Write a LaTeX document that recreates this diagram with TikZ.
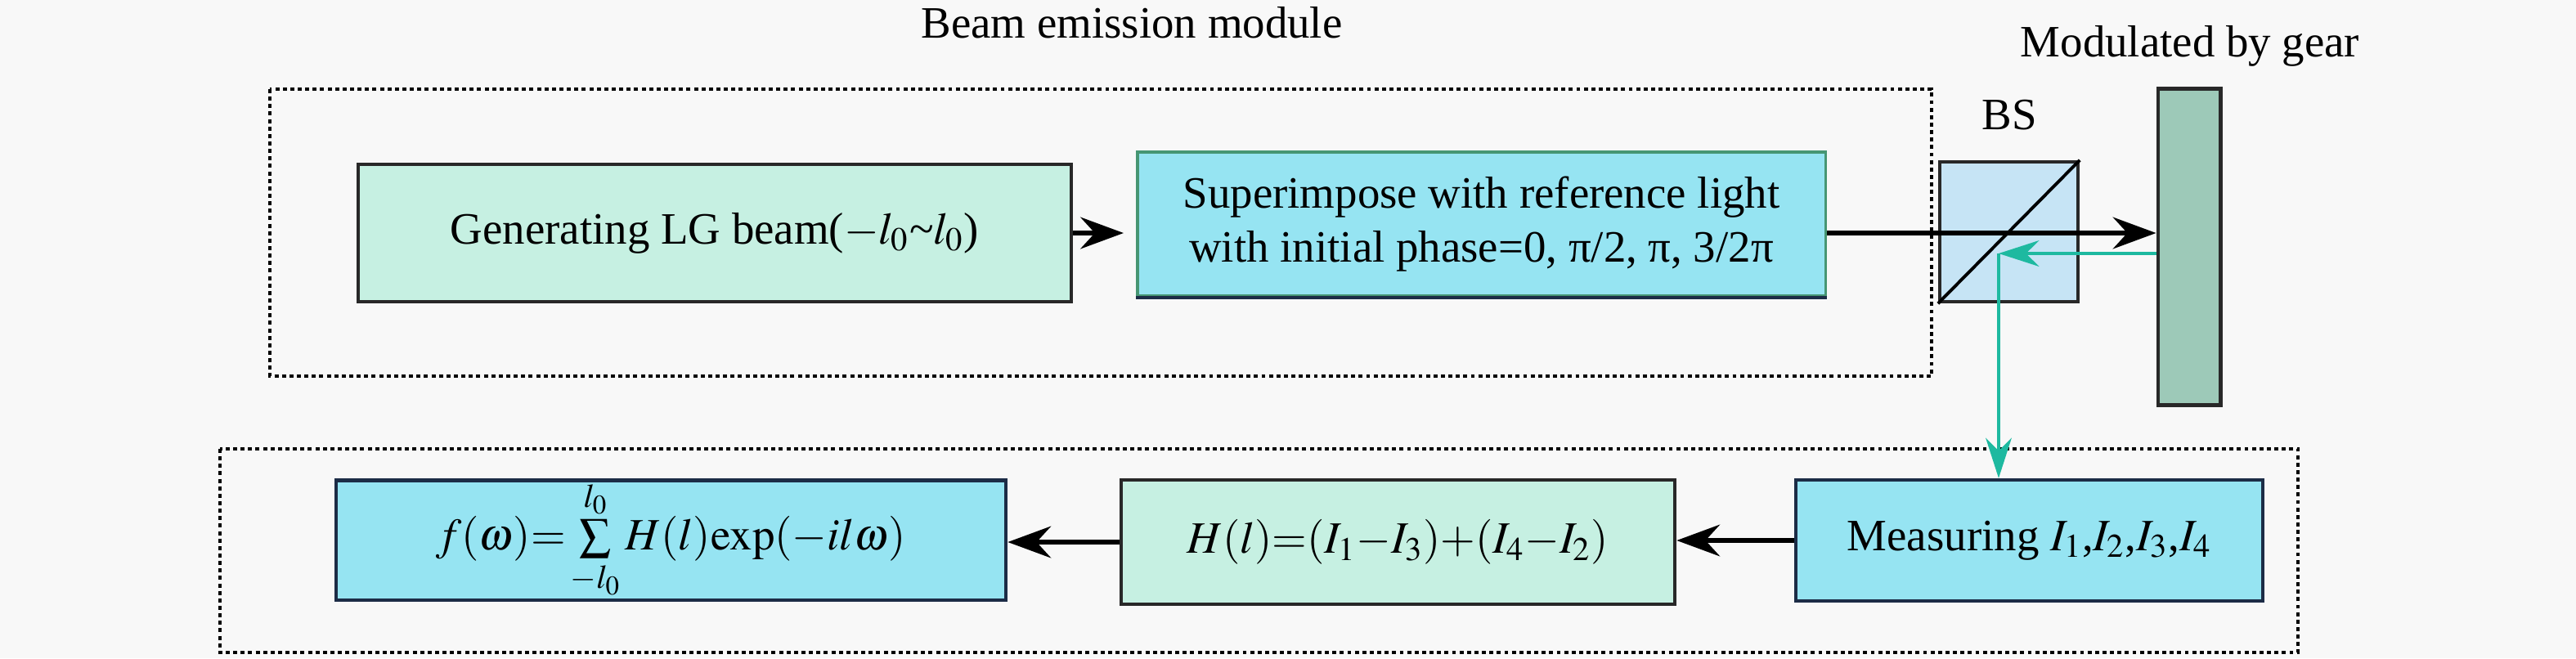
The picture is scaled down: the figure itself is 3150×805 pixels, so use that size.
\documentclass[tikz,border=0pt]{standalone}
\usepackage{mathptmx}
\usepackage[no-math]{fontspec}
\setmainfont{Liberation Serif}
\usetikzlibrary{arrows.meta}
\definecolor{bg}{RGB}{248,248,248}
\definecolor{mint}{RGB}{198,240,226}
\definecolor{cyanbox}{RGB}{150,228,242}
\definecolor{bsfill}{RGB}{198,228,245}
\definecolor{gearfill}{RGB}{157,201,184}
\definecolor{tealline}{RGB}{30,185,160}
\definecolor{darkb}{RGB}{40,40,40}
\definecolor{navyb}{RGB}{28,44,70}
\definecolor{greenb}{RGB}{70,150,115}
\tikzset{
  box/.style={draw=darkb, line width=1.2pt, inner sep=0pt, align=center},
  frame/.style={draw=black, line width=1.1pt, dash pattern=on 1.4pt off 1.2pt},
  arr/.style={draw=black, line width=1.6pt, -{Stealth[length=15pt, width=11pt, inset=5pt]}},
  tarr/.style={draw=tealline, line width=1.3pt, -{Stealth[length=14pt, width=9pt, inset=4.5pt]}},
  lbl/.style={anchor=base, inner sep=0pt}
}
\begin{document}
\begin{tikzpicture}[x=0.01cm, y=-0.01cm, font=\fontsize{15.6}{18.5}\selectfont]
\fill[bg] (0,0) rectangle (3150,805);
\useasboundingbox (0,0) rectangle (3150,805);

% frames
\draw[frame] (330,109) rectangle (2362,460);
\draw[frame] (269,549) rectangle (2810,798);

% labels
\node[lbl] (title) at (1384,46) {Beam emission module};
\node[lbl] (modl) at (2678,69) {Modulated by gear};
\node[lbl] (bsl) at (2457,158) {BS};

% top row
\node[box, fill=mint, minimum width=8.72cm, minimum height=1.68cm] (gen) at (874,285)
  {Generating LG beam($-l_0$\textasciitilde$l_0$)};
\node[box, draw=greenb, line width=1pt, fill=cyanbox, minimum width=8.41cm, minimum height=1.76cm] (sup) at (1811.5,274)
  {Superimpose with reference light\\with initial phase=0, π/2, π, 3/2π};
\draw[navyb, line width=1pt] (sup.south west) -- (sup.south east);

% beam splitter
\node[draw=darkb, line width=1.2pt, fill=bsfill, minimum width=1.69cm, minimum height=1.71cm, inner sep=0pt] (bs) at (2456.5,283.5) {};
\draw[black, line width=1.1pt] (bs.south west) -- (bs.north east);

% gear
\node[draw=darkb, line width=1.4pt, fill=gearfill, minimum width=0.76cm, minimum height=3.86cm, inner sep=0pt] (gear) at (2677,302) {};

% bottom row
\node[box, draw=navyb, fill=cyanbox, minimum width=8.19cm, minimum height=1.35cm] (fw) at (820.5,660.5)
  {$f(\omega){=}\sum\limits_{-l_0}^{l_0}H(l)\mathrm{exp}({-}il\omega)$};
\node[box, fill=mint, minimum width=6.77cm, minimum height=1.52cm] (hl) at (1709.5,663)
  {$H(l){=}(I_1{-}I_3){+}(I_4{-}I_2)$};
\node[box, draw=navyb, fill=cyanbox, minimum width=5.71cm, minimum height=1.48cm] (meas) at (2481.5,661)
  {Measuring $I_1$,$I_2$,$I_3$,$I_4$};

% connectors
\draw[arr, shorten >=0.15cm] (gen.east) -- (gen.east -| sup.west);
\draw[arr] (sup.east |- gen.east) -- (gear.west |- gen.east);
\coordinate (bsc) at (2444,310);
\draw[tarr] (gear.west |- bsc) -- (bsc);
\draw[tarr, line width=1.1pt] (bsc) -- (bsc |- meas.north);
\draw[arr] (meas.west) -- (meas.west -| hl.east);
\draw[arr] (hl.west) -- (hl.west -| fw.east);
\end{tikzpicture}
\end{document}
